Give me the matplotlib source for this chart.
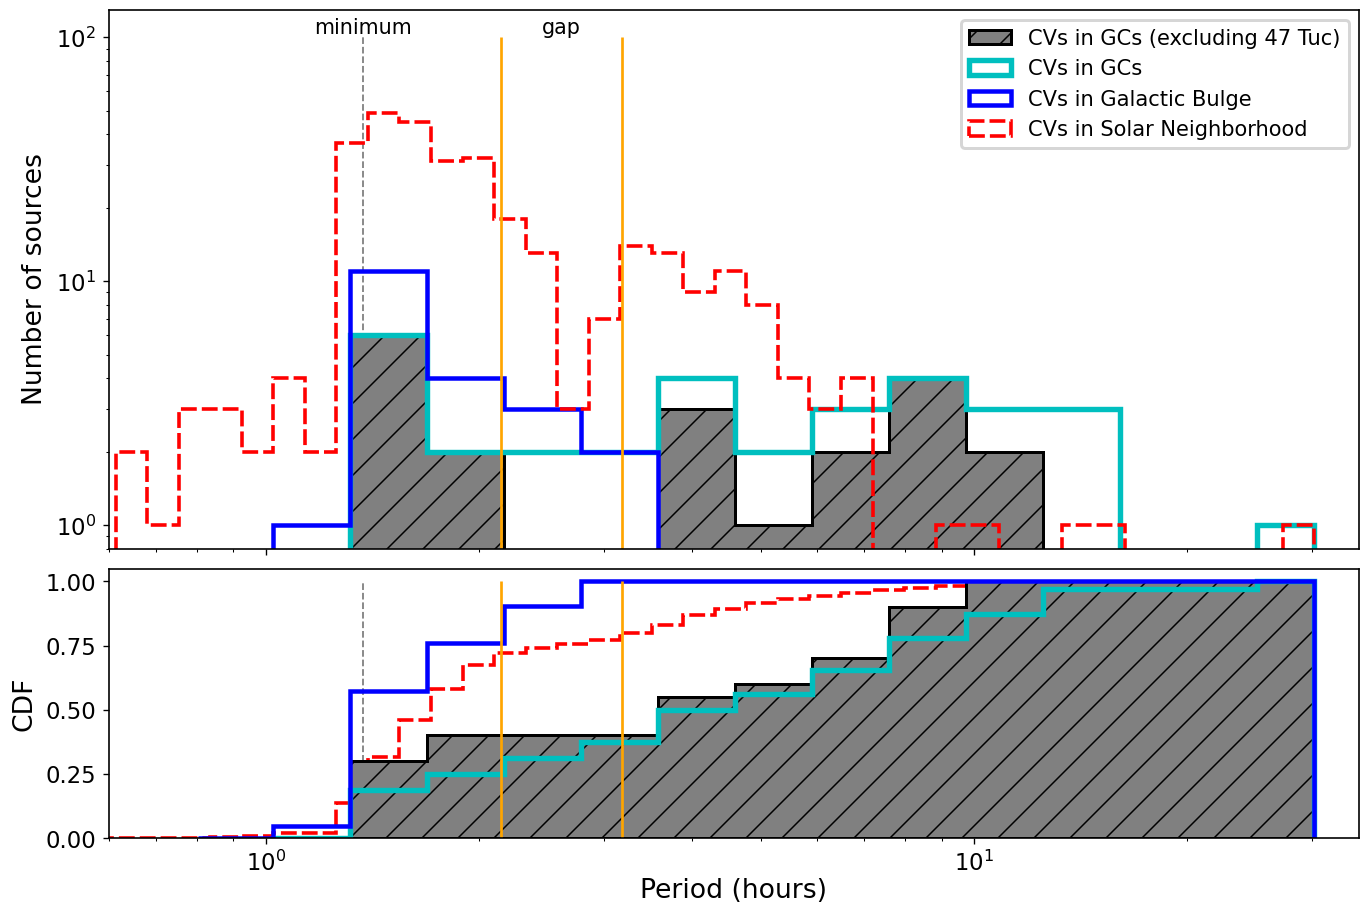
import numpy as np
import matplotlib
matplotlib.use('Agg')
import matplotlib.pyplot as plt

# orbital periods in hours
# solar neighbourhood: 38 log bins
sn_lo, sn_hi, sn_nbins = 0.614, 30.2, 38
sn_counts = [2, 1, 3, 3, 2, 4, 2, 37, 49, 45, 31, 32, 18, 13, 3, 7, 14, 13, 9, 11,
             8, 4, 3, 4, 0, 0, 1, 1, 0, 0, 1, 1, 0, 0, 0, 0, 0, 1]
# CDF of the solar neighbourhood sample as drawn in the lower panel
sn_cdf = [0.0, 0.0, 0.0, 0.0, 0.004, 0.008, 0.019, 0.019, 0.137, 0.316, 0.459, 0.580,
          0.676, 0.721, 0.742, 0.755, 0.770, 0.799, 0.831, 0.870, 0.894, 0.917, 0.933,
          0.943, 0.956, 0.965, 0.974, 0.982, 0.992, 0.994, 0.995, 0.996, 0.997, 0.998,
          0.998, 0.999, 0.999, 0.999, 1.0]
sn_cdf_first_edge = 0.58

# globular clusters and bulge bins
gc_edges = [1.024, 1.315, 1.690, 2.171, 2.789, 3.582, 4.601, 5.909, 7.584, 9.743,
            12.50, 16.05, 25.07, 30.21]
gc_excl_counts = [0, 6, 2, 0, 0, 3, 1, 2, 4, 2, 0, 0, 0]
gc_counts = [0, 6, 2, 2, 2, 4, 2, 3, 4, 3, 3, 0, 1]
bulge_edges = [0.802] + gc_edges
bulge_counts = [0, 1, 11, 4, 3, 2, 0, 0, 0, 0, 0, 0, 0, 0]

p_min = 82.4 / 60.0
gap = [2.15, 3.18]

DPI = 216
plt.rcParams.update({
    'font.size': 7.6,
    'axes.labelsize': 8.9,
    'legend.fontsize': 7.0,
    'axes.linewidth': 0.55,
    'xtick.major.size': 1.9, 'ytick.major.size': 1.9,
    'xtick.minor.size': 1.1, 'ytick.minor.size': 1.1,
    'xtick.major.width': 0.45, 'ytick.major.width': 0.45,
    'xtick.minor.width': 0.35, 'ytick.minor.width': 0.35,
    'xtick.major.pad': 2.3, 'ytick.major.pad': 2.3,
    'xtick.minor.pad': 2.3, 'ytick.minor.pad': 2.3,
    'hatch.linewidth': 0.5,
})

sn_edges = np.logspace(np.log10(sn_lo), np.log10(sn_hi), sn_nbins + 1)
gc_e = np.array(gc_edges)
bu_e = np.array(bulge_edges)


def centres(e):
    e = np.asarray(e)
    return np.sqrt(e[:-1] * e[1:])


fig, (ax1, ax2) = plt.subplots(2, 1, sharex=True, figsize=(1370.4 / DPI, 907.4 / DPI),
                               dpi=DPI, gridspec_kw={'height_ratios': [2, 1]})
fig.subplots_adjust(left=0.0792, right=0.992, top=0.989, bottom=0.0759, hspace=0.0495)

red_ls = (0, (4.4, 1.4))

# ---- top panel: histograms
ax1.set_yscale('log')
ax1.hist(centres(gc_e), bins=gc_e, weights=gc_excl_counts, histtype='stepfilled',
         facecolor='gray', edgecolor='k', hatch='//', lw=1.0, zorder=1.0,
         label='CVs in GCs (excluding 47 Tuc)')
ax1.hist(centres(gc_e), bins=gc_e, weights=gc_counts, histtype='step',
         color='c', lw=1.8, zorder=1.1, label='CVs in GCs')
ax1.hist(centres(bu_e), bins=bu_e, weights=bulge_counts, histtype='step',
         color='b', lw=1.5, zorder=1.2, label='CVs in Galactic Bulge')
ax1.hist(centres(sn_edges), bins=sn_edges, weights=sn_counts, histtype='step',
         color='r', lw=1.2, ls=red_ls, zorder=1.3, label='CVs in Solar Neighborhood')

ax1.vlines(p_min, 0.1, 100, colors='gray', linestyles='--', lw=0.6, zorder=0.9)
ax1.vlines(gap, 0.1, 100, colors='orange', lw=0.9, zorder=2)
ax1.text(p_min, 100, 'minimum', ha='center', va='bottom', fontsize=6.9)
ax1.text(np.sqrt(gap[0] * gap[1]), 100, 'gap', ha='center', va='bottom', fontsize=6.9)

ax1.set_ylim(0.8, 130)
ax1.set_ylabel('Number of sources', labelpad=2.7)
ax1.legend(loc='upper right')

# ---- bottom panel: cumulative distributions
ax2.stairs(sn_cdf, np.concatenate([[sn_cdf_first_edge], sn_edges]), baseline=0,
           color='r', lw=1.2, ls=red_ls, zorder=1.0)
ax2.hist(centres(gc_e), bins=gc_e, weights=gc_excl_counts, histtype='stepfilled',
         cumulative=True, density=True, facecolor='gray', edgecolor='k', hatch='//',
         lw=1.0, zorder=1.1)
ax2.hist(centres(gc_e), bins=gc_e, weights=gc_counts, histtype='step',
         cumulative=True, density=True, color='c', lw=1.8, zorder=1.2)
ax2.hist(centres(bu_e), bins=bu_e, weights=bulge_counts, histtype='step',
         cumulative=True, density=True, color='b', lw=1.5, zorder=1.3)

ax2.vlines(p_min, 0, 1, colors='gray', linestyles='--', lw=0.6, zorder=0.9)
ax2.vlines(gap, 0, 1, colors='orange', lw=0.9, zorder=2)

ax2.set_xscale('log')
ax2.set_xlim(0.6, 35)
ax2.set_ylim(0, 1.05)
ax2.set_yticks([0, 0.25, 0.5, 0.75, 1.0])
ax2.set_ylabel('CDF', labelpad=2.7)
ax2.set_xlabel('Period (hours)', labelpad=0.7)

fig.savefig('out.png', dpi=DPI)
